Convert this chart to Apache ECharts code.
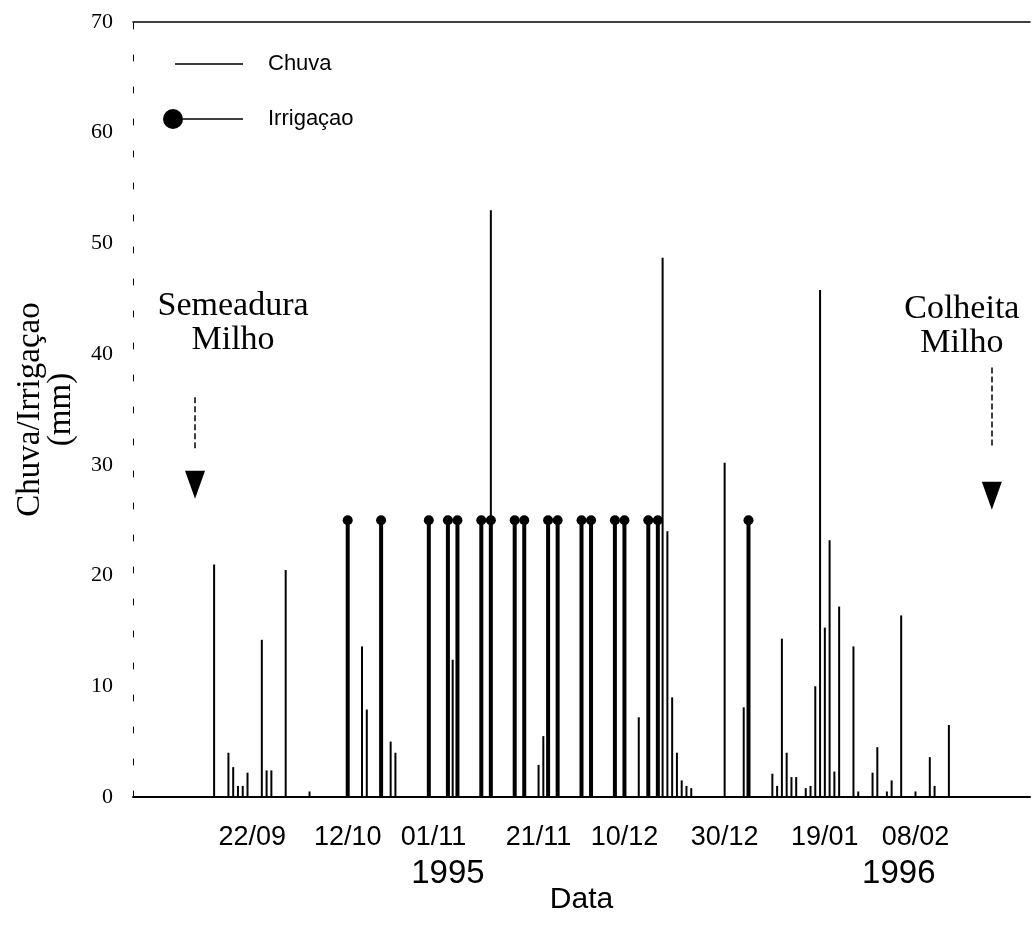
<!DOCTYPE html>
<html><head><meta charset="utf-8">
<script src="https://cdn.jsdelivr.net/npm/echarts@6/dist/echarts.min.js"></script>
<style>html,body{margin:0;padding:0;background:#fff}#c{width:1034px;height:927px}</style>
</head><body><div id="c"></div>
<script>
// Days counted from 22/09/1995
const rainDays = [-8,-5,-4,-3,-2,-1,2,3,4,7,12,23,24,29,30,42,50,60,61,81,86,87,88,89,90,91,92,99,103,104,109,110,111,112,113,114,116,117,118,119,120,121,122,123,126,127,130,131,133,134,136,139,142,143,146];
const rainMm   = [21,4,2.7,1,1,2.2,14.2,2.4,2.4,20.5,0.5,13.6,7.9,5,4,12.4,53,2.9,5.5,7.2,48.7,24,9,4,1.5,1,0.8,30.2,8.1,13.9,2.1,1,14.3,4,1.8,1.8,0.8,1,10,45.8,15.3,23.2,2.3,17.2,13.6,0.5,2.2,4.5,0.5,1.5,16.4,0.5,3.6,1,6.5];
const irrigDays = [20,27,37,41,43,48,50,55,57,62,64,69,71,76,78,83,85,104];
const irrigMm   = [25,25,25,25,25,25,25,25,25,25,25,25,25,25,25,25,25,25];

const dateTickDays   = [0,20,38,60,78,99,120,139];
const dateTickLabels = ['22/09','12/10','01/11','21/11','10/12','30/12','19/01','08/02'];
const yearTickDays   = [41,135.5];
const yearTickLabels = ['1995','1996'];

const eventDays   = [-12,155];
const eventMm     = [28.2,27.2];
const eventLabels = ['Semeadura\nMilho','Colheita\nMilho'];
const eventArrowTop    = [36.1,38.8];
const eventArrowBottom = [31.3,31.6];

const X_MIN = -25, X_MAX = 163, Y_MIN = 0, Y_MAX = 70, Y_STEP = 10;

const eventLabelOffsets = [[38,0],[-30,0]];
const eventLabelDistances = [114,122];

const chart = echarts.init(document.getElementById('c'), null, {renderer:'canvas'});
const serif = 'Liberation Serif';
const sans = 'Liberation Sans';

const chuvaIcon = 'path://M0,0L0.01,0L0.01,0.01Z M12,9.3L80,9.3L80,10.7L12,10.7Z M79.99,19.99L80,19.99L80,20L79.99,20Z';
const irrigIcon = 'path://M0,10a10,10 0 1,0 20,0a10,10 0 1,0 -20,0Z M20,9.2L80,9.2L80,10.8L20,10.8Z';

const baseX = {type:'value', min:X_MIN, max:X_MAX, splitLine:{show:false}, axisTick:{show:false}};

chart.setOption({
  animation:false,
  backgroundColor:'#fff',
  grid:{left:133, right:4, top:22, bottom:130, containLabel:false, outerBoundsMode:'none'},
  legend:{
    orient:'vertical', left:158, top:48, itemWidth:80, itemHeight:20, itemGap:33,
    selectedMode:false,
    textStyle:{fontFamily:sans, fontSize:22, color:'#000', padding:[0,0,0,20]},
    data:[{name:'Chuva', icon:chuvaIcon},{name:'Irrigaçao', icon:irrigIcon}]
  },
  xAxis:[
    Object.assign({}, baseX, {
      position:'bottom',
      axisLine:{show:true, onZero:false, lineStyle:{color:'#000', width:2}},
      axisLabel:{customValues:dateTickDays, margin:27, fontFamily:sans, fontSize:27, color:'#000',
        formatter:v => dateTickLabels[dateTickDays.indexOf(v)]}
    }),
    Object.assign({}, baseX, {
      position:'bottom',
      axisLine:{show:false, onZero:false},
      axisLabel:{customValues:yearTickDays, margin:60, fontFamily:sans, fontSize:33, color:'#000',
        formatter:v => yearTickLabels[yearTickDays.indexOf(v)]},
      name:'Data', nameLocation:'middle', nameGap:88, nameMoveOverlap:false,
      nameTextStyle:{fontFamily:sans, fontSize:30, color:'#000'}
    }),
    Object.assign({}, baseX, {
      position:'top',
      axisLine:{show:true, onZero:false, lineStyle:{color:'#000', width:1.5}},
      axisLabel:{show:false}
    })
  ],
  yAxis:{
    type:'value', min:Y_MIN, max:Y_MAX, interval:Y_STEP,
    axisLine:{show:true, onZero:false, lineStyle:{color:'#000', width:1, type:[6,26]}},
    axisTick:{show:false}, splitLine:{show:false},
    axisLabel:{margin:20, fontFamily:serif, fontSize:22, color:'#000'},
    name:'Chuva/Irrigaçao\n(mm)', nameLocation:'middle', nameRotate:90, nameGap:56, nameMoveOverlap:false,
    nameTextStyle:{fontFamily:serif, fontSize:33, lineHeight:31, color:'#000'}
  },
  series:[
    {
      name:'Irrigaçao', type:'bar', xAxisIndex:1, barWidth:4,
      itemStyle:{color:'#000'},
      data: irrigDays.map((d,i)=>[d, irrigMm[i]])
    },
    {
      name:'Irrigaçao', type:'scatter', xAxisIndex:1, symbol:'circle', symbolSize:10,
      itemStyle:{color:'#000', opacity:1},
      data: irrigDays.map((d,i)=>[d, irrigMm[i]])
    },
    {
      name:'Chuva', type:'bar', xAxisIndex:0, barWidth:2,
      itemStyle:{color:'#000'},
      data: rainDays.map((d,i)=>[d, rainMm[i]])
    },
    {
      name:'Marcos', type:'scatter', xAxisIndex:0, symbol:'triangle', symbolRotate:180,
      symbolSize:[20,28], itemStyle:{color:'#000', opacity:1}, silent:true,
      data: eventDays.map((d,i)=>({
        value:[d, eventMm[i]],
        label:{show:true, position:'top', distance:eventLabelDistances[i], offset:eventLabelOffsets[i],
          formatter:eventLabels[i], fontFamily:serif, fontSize:34, lineHeight:34, color:'#000', align:'center', opacity:1}
      })),
      markLine:{
        silent:true, symbol:'none', label:{show:false},
        lineStyle:{color:'#000', width:1.5, type:'dashed'},
        data: eventDays.map((d,i)=>[{coord:[d, eventArrowTop[i]]},{coord:[d, eventArrowBottom[i]]}])
      }
    }
  ]
});
</script>
</body></html>
